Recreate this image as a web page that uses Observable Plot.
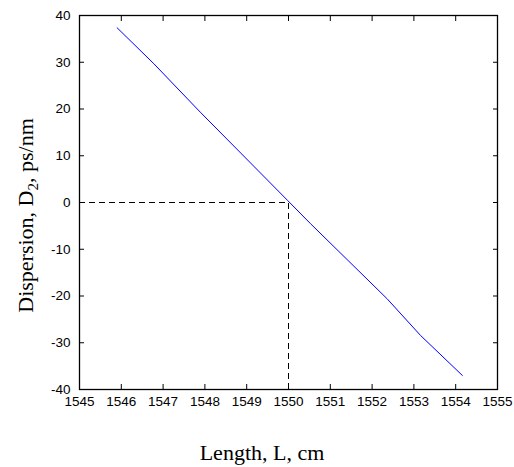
<!DOCTYPE html>
<html><head><meta charset="utf-8">
<script src="https://cdn.jsdelivr.net/npm/d3@7"></script>
<script src="https://cdn.jsdelivr.net/npm/@observablehq/plot@0.6"></script>
<style>body{margin:0;background:#fff}</style>
</head><body><div id="chart"></div>
<script>
const lengthL    = [1545.90, 1546.78, 1547.89, 1549.98, 1550.53, 1552.36, 1553.16, 1554.16];
const dispersion = [37.37, 29.67, 19.32, 0.43, -4.56, -20.60, -28.45, -37.0];
const xTicks = [1545, 1546, 1547, 1548, 1549, 1550, 1551, 1552, 1553, 1554, 1555];
const yTicks = [-40, -30, -20, -10, 0, 10, 20, 30, 40];
const xDomain = [1545, 1555];
const yDomain = [-40, 40];
const refLength = 1550;
const refDispersion = 0;
const xLabel = "Length, L, cm";
const yLabelParts = ["Dispersion, D", "2", ", ps/nm"];

const data = lengthL.map((x, i) => ({x, y: dispersion[i]}));

const tickFont = {fontSize: 13.5, fontFamily: "Liberation Sans, Arial, sans-serif"};
const plain = d => String(d);
const plot = Plot.plot({
  width: 514, height: 467,
  marginLeft: 79, marginRight: 17, marginTop: 15, marginBottom: 78,
  x: {domain: xDomain},
  y: {domain: yDomain},
  style: {fontFamily: "Liberation Sans, Arial, sans-serif", fontSize: "13.5px", color: "black", background: "white"},
  marks: [
    Plot.ruleY([refDispersion], {x1: xDomain[0], x2: refLength, stroke: "black", strokeDasharray: "6,4"}),
    Plot.ruleX([refLength], {y1: yDomain[0], y2: refDispersion, stroke: "black", strokeDasharray: "6,4"}),
    Plot.line(data, {x: "x", y: "y", stroke: "#0000ff", strokeWidth: 1}),
    Plot.axisX(xTicks, {anchor: "bottom", tickSize: -5, tickPadding: 12, tickFormat: plain, label: null, ...tickFont}),
    Plot.axisX(xTicks, {anchor: "top", tickSize: -5, tickFormat: () => "", label: null}),
    Plot.axisY(yTicks, {anchor: "left", tickSize: -5, tickPadding: 14, tickFormat: plain, label: null, ...tickFont}),
    Plot.axisY(yTicks, {anchor: "right", tickSize: -5, tickFormat: () => "", label: null}),
    Plot.frame({stroke: "black", strokeWidth: 1.3})
  ]
});

const svg = d3.select(plot);
svg.append("text")
  .attr("x", 262).attr("y", 460)
  .attr("text-anchor", "middle")
  .style("font-family", "Liberation Serif, 'Times New Roman', serif")
  .style("font-size", "22px")
  .attr("fill", "black")
  .text(xLabel);
const yl = svg.append("text")
  .attr("transform", "translate(33,215.5) rotate(-90)")
  .attr("text-anchor", "middle")
  .style("font-family", "Liberation Serif, 'Times New Roman', serif")
  .style("font-size", "22px")
  .attr("fill", "black");
yl.append("tspan").text(yLabelParts[0]);
yl.append("tspan").attr("dy", 5).style("font-size", "15px").text(yLabelParts[1]);
yl.append("tspan").attr("dy", -5).text(yLabelParts[2]);

document.getElementById("chart").appendChild(plot);
</script>
</body></html>
